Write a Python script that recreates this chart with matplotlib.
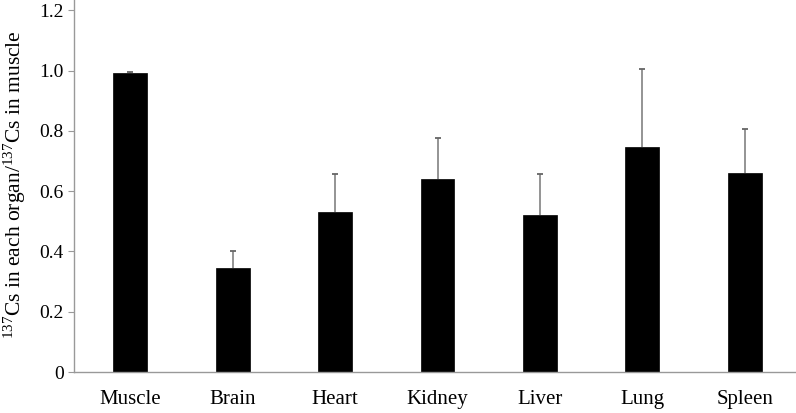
import matplotlib.pyplot as plt

plt.rcParams['font.family'] = ['Liberation Serif', 'DejaVu Serif']
plt.rcParams['mathtext.fontset'] = 'custom'
plt.rcParams['mathtext.rm'] = 'Liberation Serif'
plt.rcParams['mathtext.default'] = 'regular'

# 137Cs ratio of each organ to muscle
organs = ["Muscle", "Brain", "Heart", "Kidney", "Liver", "Lung", "Spleen"]
ratio = [0.992, 0.344, 0.532, 0.639, 0.520, 0.747, 0.659]
err_up = [0.002, 0.058, 0.126, 0.139, 0.138, 0.257, 0.148]
y_ticks = [0, 0.2, 0.4, 0.6, 0.8, 1.0, 1.2]
y_tick_labels = ["0", "0.2", "0.4", "0.6", "0.8", "1.0", "1.2"]

fig = plt.figure(figsize=(7.96, 4.13), dpi=100)
ax = fig.add_axes([0.093, 0.099, 0.907, 0.901])

x = list(range(len(organs)))
# error bars first (upper side only), bars drawn on top
ax.errorbar(x, ratio, yerr=[[0] * len(err_up), err_up], fmt="none",
            ecolor="#777777", elinewidth=1.1, capsize=0, zorder=1)
tops = [r + e for r, e in zip(ratio, err_up)]
ax.plot(x, tops, linestyle="none", marker="_", markersize=5, mew=1.3, color="#666666", zorder=1)
ax.bar(x, ratio, width=0.33, color="black", edgecolor="black", linewidth=0.5, zorder=2)

ax.set_xlim(-0.55, 6.5)
ax.set_ylim(0, 1.234)
ax.set_xticks(x)
ax.set_xticklabels(organs, fontsize=15)
ax.set_yticks(y_ticks)
ax.set_yticklabels(y_tick_labels, fontsize=14)
ax.tick_params(axis="x", length=0, pad=13)
ax.tick_params(axis="y", direction="out", length=4.5, width=0.8, color="#999999", pad=3)

for s in ["top", "right"]:
    ax.spines[s].set_visible(False)
for s in ["left", "bottom"]:
    ax.spines[s].set_color("#999999")
    ax.spines[s].set_linewidth(1.0)

ax.set_ylabel(r"$^{137}$Cs in each organ/$^{137}$Cs in muscle", fontsize=15.5)
ax.yaxis.set_label_coords(-0.064, 0.504)

plt.savefig("out.png", dpi=100)
